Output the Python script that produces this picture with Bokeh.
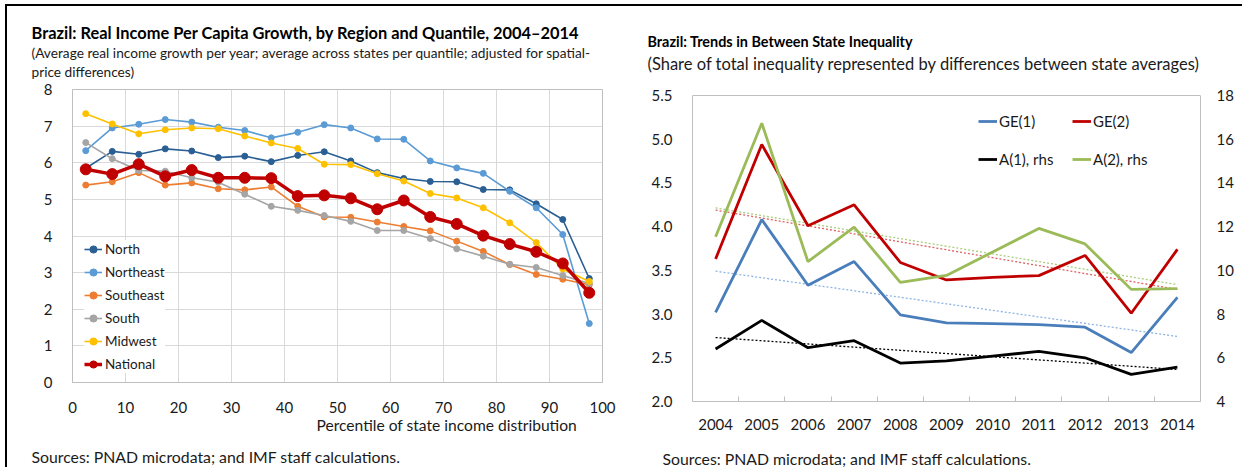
import numpy as np
from bokeh.plotting import figure
from bokeh.models import (Range1d, LinearAxis, FixedTicker, Legend, LegendItem,
                          Title, Span, NumeralTickFormatter)
from bokeh.layouts import row
from bokeh.embed import file_html
from bokeh.resources import INLINE

FONT = "Lato"

# ---------------- data: left chart ----------------
percentiles = [2.5, 7.5, 12.5, 17.5, 22.5, 27.5, 32.5, 37.5, 42.5, 47.5,
               52.5, 57.5, 62.5, 67.5, 72.5, 77.5, 82.5, 87.5, 92.5, 97.5]
north = [5.85, 6.31, 6.23, 6.38, 6.32, 6.14, 6.18, 6.03, 6.20, 6.30,
         6.05, 5.73, 5.57, 5.49, 5.48, 5.27, 5.26, 4.88, 4.45, 2.84]
northeast = [6.33, 6.95, 7.05, 7.18, 7.11, 6.97, 6.88, 6.68, 6.83, 7.04,
             6.95, 6.65, 6.64, 6.05, 5.86, 5.71, 5.22, 4.77, 4.04, 1.61]
southeast = [5.39, 5.48, 5.73, 5.39, 5.45, 5.29, 5.26, 5.34, 4.81, 4.52,
             4.51, 4.38, 4.26, 4.14, 3.86, 3.58, 3.22, 2.95, 2.82, 2.67]
south = [6.55, 6.11, 5.79, 5.77, 5.59, 5.47, 5.14, 4.81, 4.70, 4.56,
         4.40, 4.15, 4.15, 3.93, 3.65, 3.45, 3.23, 3.14, 2.92, 2.70]
midwest = [7.34, 7.06, 6.79, 6.90, 6.95, 6.93, 6.73, 6.54, 6.39, 5.96,
           5.95, 5.70, 5.50, 5.16, 5.04, 4.77, 4.36, 3.82, 3.10, 2.76]
national = [5.82, 5.69, 5.96, 5.63, 5.80, 5.59, 5.59, 5.58, 5.09, 5.11,
            5.03, 4.73, 4.97, 4.52, 4.33, 4.01, 3.78, 3.57, 3.25, 2.45]
left_x_ticks = [0, 10, 20, 30, 40, 50, 60, 70, 80, 90, 100]
left_y_ticks = [0, 1, 2, 3, 4, 5, 6, 7, 8]

# ---------------- data: right chart ----------------
years = [2004, 2005, 2006, 2007, 2008, 2009, 2010, 2011, 2012, 2013, 2014]
ge1 = [3.02, 4.08, 3.33, 3.60, 2.99, 2.90, 2.89, 2.88, 2.85, 2.56, 3.19]
ge2 = [3.63, 4.94, 4.01, 4.25, 3.59, 3.39, 3.42, 3.44, 3.67, 3.01, 3.74]
a1_rhs = [6.40, 7.71, 6.46, 6.78, 5.76, 5.86, 6.08, 6.29, 6.00, 5.24, 5.57]
a2_rhs = [11.54, 16.73, 10.40, 11.98, 9.45, 9.77, 10.84, 11.92, 11.21, 9.13, 9.16]
right_left_ticks = [2.0, 2.5, 3.0, 3.5, 4.0, 4.5, 5.0, 5.5]
right_right_ticks = [4, 6, 8, 10, 12, 14, 16, 18]

TXT = "#1a1a1a"
AX = "#bfbfbf"
TOP = 83  # common top border (frames of both panels start at the same height)


def add_title(p, text, side, size, offset, standoff, bold=False, valign="bottom"):
    p.add_layout(Title(text=text, align="left", offset=offset, standoff=standoff,
                       vertical_align=valign,
                       text_font=FONT, text_font_size=size,
                       text_font_style="bold" if bold else "normal",
                       text_color="black" if bold else TXT), side)


def add_gap(p, side, standoff):
    # blank spacer line used to set the vertical gap between text blocks
    p.add_layout(Title(text="\u00a0", standoff=standoff, text_font=FONT,
                       text_font_size="1px", text_color="white"), side)


# ================= LEFT FIGURE =================
p1 = figure(frame_width=530, frame_height=293,
            min_border_left=65, min_border_right=28,
            min_border_top=TOP, min_border_bottom=70,
            x_range=Range1d(0, 100), y_range=Range1d(0, 8),
            output_backend="svg", toolbar_location=None, title=None)
p1.background_fill_color = "white"
p1.border_fill_color = "white"
p1.outline_line_color = AX
p1.xaxis.ticker = FixedTicker(ticks=left_x_ticks)
p1.yaxis.ticker = FixedTicker(ticks=left_y_ticks)
for ax in (p1.xaxis[0], p1.yaxis[0]):
    ax.axis_line_color = AX
    ax.major_tick_line_color = None
    ax.minor_tick_line_color = None
    ax.major_label_text_font = FONT
    ax.major_label_text_font_size = "15px"
    ax.major_label_text_color = TXT
    ax.major_label_standoff = 14
p1.xaxis[0].major_label_standoff = 13
p1.xgrid.ticker = FixedTicker(ticks=left_x_ticks)
p1.ygrid.ticker = FixedTicker(ticks=left_y_ticks)
p1.xgrid.grid_line_color = "#d9d9d9"
p1.ygrid.grid_line_color = "#d9d9d9"

series = [
    ("North", north, "#2a5f94", 1.6, 6),
    ("Northeast", northeast, "#5b9bd5", 1.6, 6),
    ("Southeast", southeast, "#ed7d31", 1.6, 6),
    ("South", south, "#a5a5a5", 1.6, 6),
    ("Midwest", midwest, "#ffc000", 1.6, 6),
    ("National", national, "#c00000", 3.5, 11),
]
items = []
for name, vals, col, lw, ms in series:
    lr = p1.line(percentiles, vals, line_color=col, line_width=lw)
    sr = p1.scatter(percentiles, vals, size=ms, fill_color=col, line_color=col)
    items.append(LegendItem(label=name, renderers=[lr, sr]))

leg1 = Legend(items=items, location=(12, 9), margin=0,
              label_text_font=FONT, label_text_font_size="13.5px", label_text_color=TXT,
              glyph_width=18, glyph_height=18, label_height=18, spacing=5,
              padding=8, label_standoff=3,
              background_fill_color="white", background_fill_alpha=1.0,
              border_line_color=None)
p1.add_layout(leg1)

# texts above (first added = nearest to the plot area)
add_gap(p1, "above", 7)
add_title(p1, "price differences)", "above", "13.7px", -41, 0)
add_title(p1, "(Average real income growth per year; average across states per quantile; adjusted for spatial-",
          "above", "13.7px", -41, 0)
add_title(p1, "Brazil: Real Income Per Capita Growth, by Region and Quantile, 2004\u20132014",
          "above", "16.4px", -41, 0, bold=True)
# texts below
add_title(p1, "Percentile of state income distribution", "below", "15.6px", 244, 0, valign="top")
add_gap(p1, "below", 6)
add_title(p1, "Sources: PNAD microdata; and IMF staff calculations.", "below", "15.8px", -41, 0)

# ================= RIGHT FIGURE =================
# frame spans a few pixels above the 5.5 / 18 line, as the left panel's frame does
Y_TOP = 5.5 + 6 * 3.5 / 306
R_TOP = 18 + 6 * 14 / 306
p2 = figure(frame_width=508, frame_height=312,
            min_border_left=62, min_border_right=42,
            min_border_top=TOP, min_border_bottom=60,
            x_range=Range1d(2003.5, 2014.5), y_range=Range1d(2.0, Y_TOP),
            output_backend="svg", toolbar_location=None, title=None)
p2.extra_y_ranges = {"rhs": Range1d(4, R_TOP)}
p2.background_fill_color = "white"
p2.border_fill_color = "white"
p2.outline_line_color = None
p2.xgrid.visible = False
p2.ygrid.visible = False
p2.xaxis.ticker = FixedTicker(ticks=years, minor_ticks=[y - 0.5 for y in years] + [2014.5])
p2.yaxis.ticker = FixedTicker(ticks=right_left_ticks)
p2.yaxis.formatter = NumeralTickFormatter(format="0.0")
p2.yaxis.bounds = (2.0, 5.5)
rax = LinearAxis(y_range_name="rhs", ticker=FixedTicker(ticks=right_right_ticks), bounds=(4, 18))
p2.add_layout(rax, "right")
for ax in (p2.xaxis[0], p2.yaxis[0], rax):
    ax.axis_line_color = AX
    ax.major_tick_line_color = None
    ax.minor_tick_line_color = None
    ax.major_label_text_font = FONT
    ax.major_label_text_font_size = "15px"
    ax.major_label_text_color = TXT
    ax.major_label_standoff = 14
rax.major_label_standoff = 10
p2.xaxis[0].major_label_standoff = 11
p2.xaxis[0].minor_tick_line_color = AX
p2.xaxis[0].minor_tick_in = 5
p2.xaxis[0].minor_tick_out = 0
p2.add_layout(Span(location=5.5, dimension="width", line_color=AX, line_width=1))

# trend lines (linear fits of each series, as in the original)
yrs = np.array(years, dtype=float)
trend_specs = [
    (ge1, "#8db4e2", "default"),
    (ge2, "#e06060", "default"),
    (a1_rhs, "#000000", "rhs"),
    (a2_rhs, "#a9cd7a", "rhs"),
]
for vals, col, rng in trend_specs:
    k, b = np.polyfit(yrs, np.array(vals), 1)
    p2.line(years, list(k * yrs + b), line_color=col, line_width=1.3,
            line_dash="2 2", y_range_name=rng)

r_ge1 = p2.line(years, ge1, line_color="#4a7ebb", line_width=2.8)
r_ge2 = p2.line(years, ge2, line_color="#c00000", line_width=2.8)
r_a1 = p2.line(years, a1_rhs, line_color="#000000", line_width=2.8, y_range_name="rhs")
r_a2 = p2.line(years, a2_rhs, line_color="#9bbb59", line_width=2.8, y_range_name="rhs")

common = dict(orientation="horizontal", margin=0, padding=0,
              label_text_font=FONT, label_text_font_size="15px", label_text_color=TXT,
              glyph_width=19, glyph_height=20, label_height=20, label_width=60,
              label_standoff=2, spacing=13,
              background_fill_alpha=0.0, border_line_color=None)
leg2a = Legend(items=[LegendItem(label="GE(1)", renderers=[r_ge1]),
                      LegendItem(label="GE(2)", renderers=[r_ge2])],
               location=(286, 270), **common)
leg2b = Legend(items=[LegendItem(label="A(1), rhs", renderers=[r_a1]),
                      LegendItem(label="A(2), rhs", renderers=[r_a2])],
               location=(286, 232), **common)
p2.add_layout(leg2a)
p2.add_layout(leg2b)

add_gap(p2, "above", 13)
add_title(p2, "(Share of total inequality represented by differences between state averages)",
          "above", "16.5px", -45, 0)
add_title(p2, "Brazil: Trends in Between State Inequality", "above", "14.4px", -45, 4, bold=True)
add_gap(p2, "below", 11)
add_title(p2, "Sources: PNAD microdata; and IMF staff calculations.", "below", "15.8px", -30, 0)

layout = row(p1, p2, spacing=0,
             styles={"margin-left": "5px", "margin-top": "4px",
                     "border-top": "2px solid black", "border-left": "2px solid black"})

with open("out.html", "w") as f:
    f.write(file_html(layout, INLINE))
